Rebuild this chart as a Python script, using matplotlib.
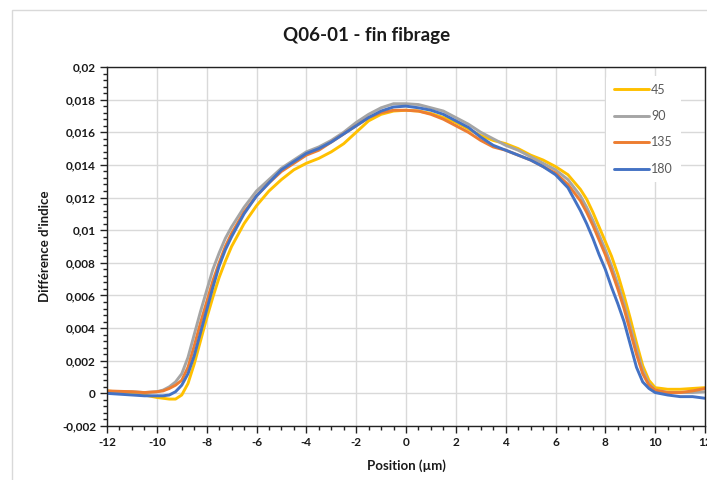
import numpy as np
import matplotlib
matplotlib.use("Agg")
import matplotlib.pyplot as plt
from matplotlib.patches import Rectangle
from matplotlib.ticker import MultipleLocator, FuncFormatter

# Positions (µm)
position = [-12, -11, -10.5, -10, -9.75, -9.5, -9.25, -9, -8.75, -8.5, -8.25, -8,
            -7.75, -7.5, -7.25, -7, -6.5, -6, -5.5, -5, -4.5, -4, -3.5, -3, -2.5,
            -2, -1.5, -1, -0.5, 0, 0.5, 1, 1.5, 2, 2.5, 3, 3.5, 4, 4.5, 5, 5.5,
            6, 6.5, 7, 7.25, 7.5, 7.75, 8, 8.25, 8.5, 8.75, 9, 9.25, 9.5, 9.75,
            10, 10.5, 11, 11.5, 12]

# Index difference profiles (x 1e-3) for each angle
diff_45 = [0.15, 0.0, -0.1, -0.25, -0.3, -0.35, -0.35, -0.1, 0.6, 1.8, 3.2, 4.6,
           5.9, 7.1, 8.1, 9.0, 10.4, 11.5, 12.4, 13.1, 13.7, 14.1, 14.4, 14.8, 15.3,
           16.0, 16.7, 17.1, 17.3, 17.35, 17.3, 17.15, 16.9, 16.6, 16.2, 15.8, 15.5, 15.3, 15.0, 14.6, 14.3,
           13.9, 13.4, 12.5, 11.9, 11.1, 10.2, 9.3, 8.4, 7.3, 6.0, 4.6, 3.1, 1.7, 0.8,
           0.35, 0.25, 0.25, 0.3, 0.35]
diff_90 = [0.1, 0.1, 0.05, 0.1, 0.2, 0.4, 0.7, 1.2, 2.2, 3.6, 5.0, 6.3,
           7.6, 8.6, 9.5, 10.2, 11.4, 12.4, 13.1, 13.8, 14.3, 14.8, 15.1, 15.5, 16.0,
           16.6, 17.1, 17.5, 17.75, 17.75, 17.7, 17.5, 17.3, 16.9, 16.5, 16.0, 15.6, 15.2, 14.9, 14.5, 14.1,
           13.7, 13.1, 12.1, 11.4, 10.6, 9.7, 8.8, 7.8, 6.7, 5.5, 4.1, 2.7, 1.4, 0.6,
           0.2, 0.05, 0.05, 0.05, 0.1]
diff_135 = [0.15, 0.1, 0.05, 0.1, 0.15, 0.3, 0.5, 0.8, 1.6, 2.9, 4.3, 5.6,
            6.9, 8.0, 9.0, 9.8, 11.1, 12.1, 12.9, 13.6, 14.1, 14.6, 14.9, 15.4, 15.9,
            16.4, 16.9, 17.2, 17.35, 17.35, 17.3, 17.1, 16.8, 16.4, 16.0, 15.5, 15.1, 14.9, 14.6, 14.3, 13.9,
            13.5, 12.8, 11.8, 11.1, 10.3, 9.4, 8.5, 7.5, 6.4, 5.2, 3.8, 2.4, 1.2, 0.5,
            0.2, 0.05, 0.05, 0.15, 0.3]
diff_180 = [0.0, -0.1, -0.15, -0.15, -0.15, -0.1, 0.1, 0.5, 1.2, 2.3, 3.7, 5.1,
            6.5, 7.8, 8.8, 9.6, 11.0, 12.1, 12.9, 13.7, 14.2, 14.7, 15.0, 15.4, 15.9,
            16.4, 16.9, 17.3, 17.55, 17.6, 17.5, 17.35, 17.1, 16.7, 16.3, 15.7, 15.2, 14.9, 14.6, 14.3, 13.9,
            13.4, 12.6, 11.2, 10.4, 9.5, 8.5, 7.6, 6.5, 5.5, 4.4, 3.0, 1.6, 0.7, 0.3,
            0.05, -0.1, -0.2, -0.2, -0.3]

labels = ["45", "90", "135", "180"]
colors = ["#FFC000", "#A5A5A5", "#ED7D31", "#4472C4"]
series = [diff_45, diff_90, diff_135, diff_180]

plt.rcParams["font.family"] = ["Lato", "DejaVu Sans"]

fig = plt.figure(figsize=(7.07, 4.80), dpi=100)
fig.patch.set_facecolor("white")

# chart-area frame
fig.patches.append(Rectangle((12 / 707, -0.1), 1.2, 1 - 10 / 480 + 0.1,
                             transform=fig.transFigure, fill=False,
                             edgecolor="#D9D9D9", linewidth=1.0, zorder=0))

ax = fig.add_axes([107 / 707, 1 - 426 / 480, (705 - 107) / 707, (426 - 67) / 480])

for vals, lab, col in zip(series, labels, colors):
    ax.plot(position, np.array(vals) * 1e-3, color=col, lw=2.1, label=lab,
            solid_joinstyle="round", solid_capstyle="round")

ax.set_xlim(-12, 12)
ax.set_ylim(-0.002, 0.02)
ax.xaxis.set_major_locator(MultipleLocator(2))
ax.xaxis.set_minor_locator(MultipleLocator(0.5))
ax.yaxis.set_major_locator(MultipleLocator(0.002))
ax.yaxis.set_minor_locator(MultipleLocator(0.0004))


def comma_fmt(v, pos):
    v = round(v, 6)
    if v == 0:
        return "0"
    return f"{v:g}".replace(".", ",")


ax.yaxis.set_major_formatter(FuncFormatter(comma_fmt))
ax.xaxis.set_major_formatter(FuncFormatter(lambda v, p: f"{v:g}"))

ax.grid(True, which="major", color="#D9D9D9", lw=1.0)
ax.set_axisbelow(True)
for s in ax.spines.values():
    s.set_color("#222222")
    s.set_linewidth(1.0)

ax.tick_params(which="major", direction="out", length=5, width=1, color="#222222",
               labelsize=8.5, pad=3)
ax.tick_params(which="minor", direction="out", length=3, width=1, color="#222222")
for t in ax.get_xticklabels() + ax.get_yticklabels():
    t.set_fontweight("bold")
    t.set_color("#1a1a1a")

ax.set_xlabel("Position (µm)", fontsize=9.5, fontweight="bold", color="#1a1a1a", labelpad=8)
ax.set_ylabel("Différence d'indice", fontsize=9.5, fontweight="bold", color="#1a1a1a", labelpad=8)

fig.text(367 / 707, 1 - 35 / 480, "Q06-01 - fin fibrage", ha="center", va="center",
         fontsize=13.5, fontweight="bold", color="#1a1a1a")

leg = ax.legend(loc="upper left", bbox_to_anchor=(493 / 598, 1 - 3 / 359),
                frameon=True, facecolor="white", edgecolor="none", framealpha=1,
                fontsize=9, handlelength=2.8, handletextpad=0.2, labelspacing=1.15,
                borderpad=0.6)
for t in leg.get_texts():
    t.set_color("#595959")

fig.savefig("out.png", dpi=100)
